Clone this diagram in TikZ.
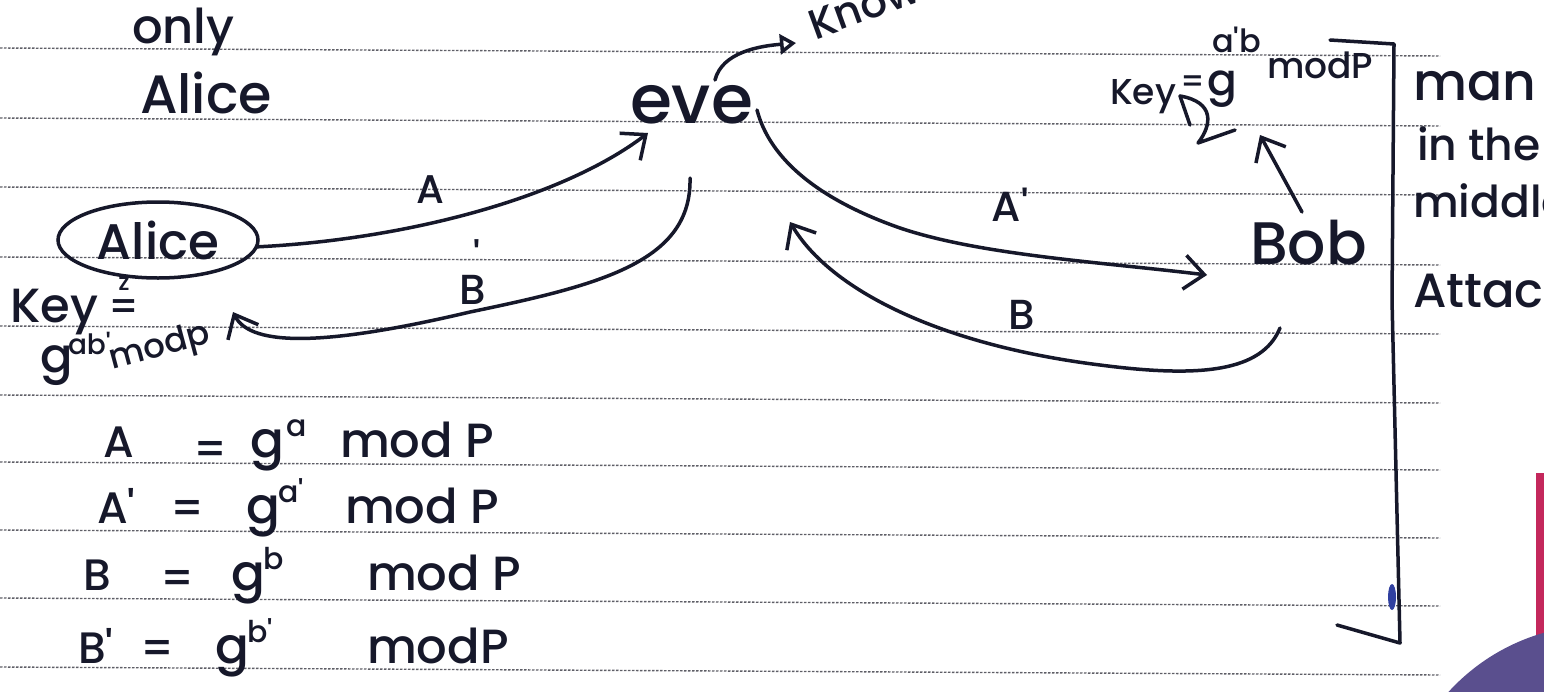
\documentclass[tikz,border=0pt]{standalone}
\usepackage{fontspec}
\setmainfont{Poppins}[UprightFont={* Medium}]
\usetikzlibrary{arrows.meta,shapes.geometric}
\definecolor{ink}{HTML}{16182A}
\definecolor{rulec}{HTML}{5E5E66}
\definecolor{blobc}{HTML}{5A4F8E}
\definecolor{pinkc}{HTML}{C4285C}
\definecolor{bluedot}{HTML}{3040A0}
\newcommand\fsz[1]{\fontsize{#1}{#1}\selectfont}
\tikzset{
  pen/.style={draw=ink, line width=3.5pt, line cap=round, line join=round},
  conn/.style={pen, -{Straight Barb[length=20pt,width=34pt]}},
  txt/.style={text=ink, inner sep=0pt, outer sep=0pt},
  rule/.style={draw=rulec, line width=1.4pt, dash pattern=on 2.5pt off 1.5pt},
}
\begin{document}
\begin{tikzpicture}[x=1pt,y=-1pt]
\useasboundingbox (0,0) rectangle (1544,691);
\clip (0,0) rectangle (1544,691);
\fill[white] (0,0) rectangle (1544,691);
% ruled paper
\foreach \y in {48,118,187,257,326,395,462,530,598,667}
  \draw[rule] (0,\y) -- (1440,\y+8);
% background blob
\fill[pinkc] (1536,473) rectangle (1544,691);
\fill[blobc] (1600,830) circle (205);

% top-left note
\node[txt, anchor=base west, font=\fsz{48}] (only) at (132,43) {only};
\node[txt, anchor=base west, font=\fsz{54}] (aliceT) at (140,113) {Alice};

% main actors
\node[txt, ellipse, draw=ink, line width=3.5pt, minimum width=200pt, minimum height=76pt, font=\fsz{50}] (alice) at (158,240) {Alice};
\node[txt, anchor=base west, font=\fsz{68}] (eve) at (630,123) {eve};
\node[txt, anchor=base west, rotate=20, font=\fsz{42}] (knows) at (815,40) {Knows};
\node[txt, anchor=base west, font=\fsz{60}] (bob) at (1250,264) {Bob};

% Alice key
\node[txt, anchor=base west, font=\fsz{48}] (keyL) at (10,322) {Key};
\node[txt, font=\fsz{24}] (keyLz) at (124,284) {z};
\node[txt, font=\fsz{40}] (keyLeq) at (124,310) {=};
\node[txt, anchor=base west, font=\fsz{48}] (keyLg) at (40,372) {g};
\node[txt, anchor=base west, font=\fsz{28}] (keyLsup) at (68,354) {ab\textquotesingle};
\node[txt, rotate=15, font=\fsz{34}] (keyLmod) at (160,348) {modp};

% Bob key
\node[txt, anchor=base west, font=\fsz{36}] (keyR) at (1110,104) {Key};
\node[txt, font=\fsz{32}] (keyReq) at (1193,84) {=};
\node[txt, anchor=base west, font=\fsz{44}] (keyRg) at (1207,95) {g};
\node[txt, anchor=base west, font=\fsz{32}] (keyRsup) at (1212,52) {a\textquotesingle b};
\node[txt, anchor=base west, font=\fsz{36}] (keyRmod) at (1267,78) {modP};
\draw[pen] (1180,96) -- (1190,125);
\draw[pen] (1180,96) .. controls (1215,102) and (1212,125) .. (1198,143) -- (1235,130);

% arrow labels
\node[txt, font=\fsz{40}] (lA) at (430,190) {A};
\node[txt, font=\fsz{42}] (lBp) at (473,290) {B};
\node[txt, font=\fsz{40}] (lBpt) at (477,256) {\textquotesingle};
\node[txt, font=\fsz{42}] (lAp) at (1010,205) {A\textquotesingle};
\node[txt, font=\fsz{42}] (lB) at (1022,315) {B};

% connector end points
\coordinate (aIn) at (648,133);
\coordinate (bpOut) at (690,178);
\coordinate (bpIn) at (233,312);
\coordinate (apOut) at (757,110);
\coordinate (apIn) at (1207,275);
\coordinate (bOut) at (1280,328);
\coordinate (bIn) at (790,222);
\coordinate (eveTop) at (715,80);
\coordinate (knowsIn) at (796,43);
\coordinate (bobTop) at (1302,212);
\coordinate (keyRIn) at (1260,135);

% connectors
\draw[conn] (alice.-4) .. controls (400,240) and (560,200) .. (aIn);
\draw[conn] (bpOut) .. controls (692,262) and (600,285) .. (470,312) .. controls (330,345) and (251,348) .. (bpIn);
\draw[conn] (apOut) .. controls (770,160) and (820,200) .. (900,228) .. controls (980,255) and (1100,262) .. (apIn);
\draw[conn] (bOut) .. controls (1262,372) and (1200,378) .. (1100,365) .. controls (940,345) and (830,290) .. (bIn);
\draw[pen, -{Triangle[open,length=16pt,width=20pt]}] (eveTop) .. controls (722,52) and (760,46) .. (knowsIn);
\draw[conn] (bobTop) -- (keyRIn);

% bracket
\coordinate (brTop) at (1330,40);
\coordinate (brTip) at (1400,643);
\draw[pen] (brTop) -- (1394,44) -- (1392,300) -- (brTip) -- (1337,625);
\fill[bluedot] (1392,597) ellipse (4 and 13);

% side note
\node[txt, anchor=base west, font=\fsz{52}] (man) at (1413,100) {man};
\node[txt, anchor=base west, font=\fsz{44}] (inthe) at (1417,160) {in the};
\node[txt, anchor=base west, font=\fsz{44}] (middle) at (1413,217) {middle};
\node[txt, anchor=base west, font=\fsz{48}] (attack) at (1413,307) {Attack};

% equations
\node[txt, anchor=base west, font=\fsz{44}] (e1l) at (103,457) {A};
\node[txt, anchor=base, font=\fsz{44}] (e1e) at (211,464) {=};
\node[txt, anchor=base west, font=\fsz{50}] (e1g) at (250,457) {g};
\node[txt, anchor=base west, font=\fsz{30}] (e1s) at (286,436) {a};
\node[txt, anchor=base west, font=\fsz{48}] (e1m) at (340,457) {mod P};

\node[txt, anchor=base west, font=\fsz{44}] (e2l) at (97,523) {A\textquotesingle};
\node[txt, anchor=base, font=\fsz{44}] (e2e) at (188,523) {=};
\node[txt, anchor=base west, font=\fsz{50}] (e2g) at (246,523) {g};
\node[txt, anchor=base west, font=\fsz{30}] (e2s) at (278,502) {a\textquotesingle};
\node[txt, anchor=base west, font=\fsz{48}] (e2m) at (345,523) {mod P};

\node[txt, anchor=base west, font=\fsz{44}] (e3l) at (83,590) {B};
\node[txt, anchor=base, font=\fsz{44}] (e3e) at (178,593) {=};
\node[txt, anchor=base west, font=\fsz{50}] (e3g) at (231,590) {g};
\node[txt, anchor=base west, font=\fsz{30}] (e3s) at (263,569) {b};
\node[txt, anchor=base west, font=\fsz{48}] (e3m) at (367,590) {mod P};

\node[txt, anchor=base west, font=\fsz{44}] (e4l) at (78,663) {B\textquotesingle};
\node[txt, anchor=base, font=\fsz{44}] (e4e) at (158,663) {=};
\node[txt, anchor=base west, font=\fsz{50}] (e4g) at (215,663) {g};
\node[txt, anchor=base west, font=\fsz{30}] (e4s) at (247,642) {b\textquotesingle};
\node[txt, anchor=base west, font=\fsz{48}] (e4m) at (367,663) {modP};
\end{tikzpicture}
\end{document}
